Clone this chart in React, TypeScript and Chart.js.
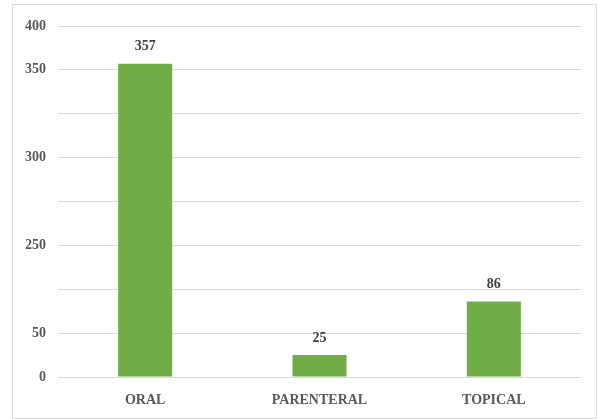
import React, { useEffect, useRef } from "react";
import { Chart, registerables } from "chart.js";

Chart.register(...registerables);

// Route of administration counts
const categories = ["ORAL", "PARENTERAL", "TOPICAL"];
const counts = [357, 25, 86];

// Axis labels shown at selected gridlines
const tickValues = [0, 50, 150, 250, 350, 400];
const tickLabels = ["0", "50", "250", "300", "350", "400"];

const FONT = "'Liberation Serif', 'Times New Roman', serif";
const TEXT = "#595959";
const GRID = "#d9d9d9";
const BAR = "#70ad47";

const valueLabels = {
  id: "valueLabels",
  afterDatasetsDraw(chart: any) {
    const { ctx } = chart;
    const meta = chart.getDatasetMeta(0);
    ctx.save();
    ctx.font = `bold 14px ${FONT}`;
    ctx.fillStyle = "#404040";
    ctx.textAlign = "center";
    ctx.textBaseline = "middle";
    meta.data.forEach((bar: any, i: number) => {
      ctx.fillText(String(counts[i]), bar.x, bar.y - 17);
    });
    ctx.restore();
  },
};

const frame = {
  id: "frame",
  beforeDraw(chart: any) {
    const { ctx } = chart;
    ctx.save();
    ctx.fillStyle = "#ffffff";
    ctx.fillRect(0, 0, chart.width, chart.height);
    ctx.strokeStyle = GRID;
    ctx.lineWidth = 1;
    ctx.strokeRect(12.5, 4.5, 584, 414);
    ctx.restore();
  },
};

export default function App() {
  const ref = useRef<HTMLCanvasElement | null>(null);

  useEffect(() => {
    if (!ref.current) return;
    const chart = new Chart(ref.current, {
      type: "bar",
      data: {
        labels: categories,
        datasets: [
          {
            data: counts,
            backgroundColor: BAR,
            borderWidth: 0,
            categoryPercentage: 1,
            barPercentage: 0.31,
          },
        ],
      },
      plugins: [frame, valueLabels],
      options: {
        responsive: false,
        animation: false,
        layout: { padding: { left: 0, top: 26, right: 17, bottom: 0 } },
        plugins: { legend: { display: false }, tooltip: { enabled: false } },
        scales: {
          x: {
            grid: { display: false },
            border: { display: false },
            ticks: {
              color: TEXT,
              font: { family: FONT, size: 14, weight: "bold" },
              padding: 7,
            },
            afterFit(scale: any) {
              scale.height = 42;
            },
          },
          y: {
            min: 0,
            max: 400,
            afterBuildTicks(scale: any) {
              scale.ticks = [0, 50, 100, 150, 200, 250, 300, 350, 400].map((v) => ({ value: v }));
            },
            grid: { color: GRID, lineWidth: 1, drawTicks: false },
            border: { display: false },
            ticks: {
              color: TEXT,
              font: { family: FONT, size: 14, weight: "bold" },
              padding: 12,
              callback(value: any) {
                const i = tickValues.indexOf(Number(value));
                return i >= 0 ? tickLabels[i] : "";
              },
            },
            afterFit(scale: any) {
              scale.width = 58;
            },
          },
        },
      },
    });
    return () => chart.destroy();
  }, []);

  return (
    <div style={{ position: "fixed", left: 0, top: 0, width: 598, height: 419, background: "#fff" }}>
      <canvas ref={ref} width={598} height={419} style={{ display: "block" }} />
    </div>
  );
}
